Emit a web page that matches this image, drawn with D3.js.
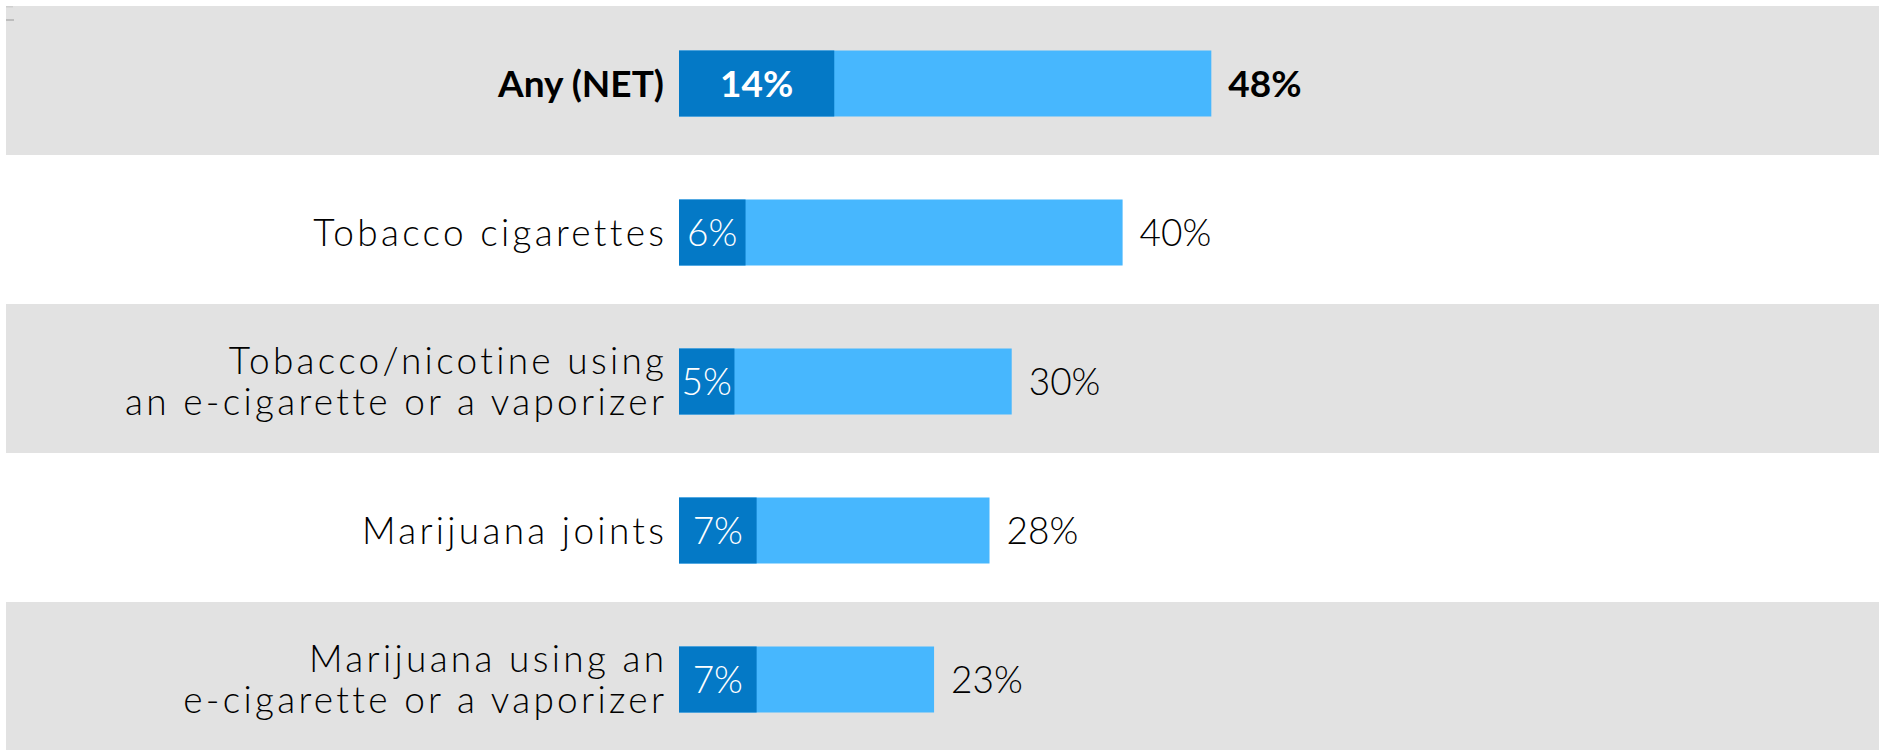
<!DOCTYPE html>
<html>
<head>
<meta charset="utf-8">
<script src="https://cdn.jsdelivr.net/npm/d3@7"></script>
<style>
  html, body { margin: 0; padding: 0; background: #fff; }
  svg { display: block; }
  text { font-family: "Century Gothic", "URW Gothic", "Lato", "DejaVu Sans", sans-serif; }
</style>
</head>
<body>
<div id="chart"></div>
<script>
// chart data
var categories = ["Any (NET)", "Tobacco cigarettes", "Tobacco/nicotine using an e-cigarette or a vaporizer", "Marijuana joints", "Marijuana using an e-cigarette or a vaporizer"];
var labelLines = [["Any (NET)"], ["Tobacco cigarettes"], ["Tobacco/nicotine using", "an e-cigarette or a vaporizer"], ["Marijuana joints"], ["Marijuana using an", "e-cigarette or a vaporizer"]];
var innerValues = [14, 6, 5, 7, 7];
var totalValues = [48, 40, 30, 28, 23];

var width = 1879, height = 750;
var barStart = 679, pxPerPct = 11.09;
var barHeight = 66, fontSize = 37;
var darkBlue = "#0479c6", lightBlue = "#47b7fe", bandGrey = "#e2e2e2";

var rows = categories.map(function (c, i) {
    return { cat: c, lines: labelLines[i], inner: innerValues[i], total: totalValues[i], first: i === 0 };
});

var svg = d3.select("#chart").append("svg")
    .attr("width", width)
    .attr("height", height);

var y = d3.scaleBand().domain(categories).range([6, 751]).padding(0);
var x = d3.scaleLinear().domain([0, 100]).range([barStart, barStart + 100 * pxPerPct]);

function barMid(d) { return y(d.cat) + y.bandwidth() / 2 + 3; }

// alternating grey bands
svg.append("g").selectAll("rect")
    .data(rows.filter(function (d, i) { return i % 2 === 0; }))
    .enter().append("rect")
    .attr("x", 6)
    .attr("y", function (d) { return y(d.cat); })
    .attr("width", width - 6)
    .attr("height", y.bandwidth())
    .attr("fill", bandGrey);

// little marks top-left
svg.append("rect").attr("x", 6).attr("y", 6).attr("width", 7).attr("height", 1.5).attr("fill", "#cfcfcf");
svg.append("rect").attr("x", 6).attr("y", 19).attr("width", 8).attr("height", 2).attr("fill", "#bdbdbd");

var g = svg.append("g").selectAll("g")
    .data(rows)
    .enter().append("g");

// total bar (light)
g.append("rect")
    .attr("x", x(0))
    .attr("y", function (d) { return barMid(d) - barHeight / 2; })
    .attr("width", function (d) { return x(d.total) - x(0); })
    .attr("height", barHeight)
    .attr("fill", lightBlue);

// inner bar (dark)
g.append("rect")
    .attr("x", x(0))
    .attr("y", function (d) { return barMid(d) - barHeight / 2; })
    .attr("width", function (d) { return x(d.inner) - x(0); })
    .attr("height", barHeight)
    .attr("fill", darkBlue);

// inner value labels
g.append("text")
    .attr("x", function (d) { return (x(0) + x(d.inner)) / 2; })
    .attr("y", function (d) { return barMid(d) + 13; })
    .attr("text-anchor", "middle")
    .attr("fill", "#fff")
    .attr("font-size", fontSize)
    .attr("font-weight", function (d) { return d.first ? "bold" : 300; })
    .text(function (d) { return d.inner + "%"; });

// total value labels
g.append("text")
    .attr("x", function (d) { return x(d.total) + 17; })
    .attr("y", function (d) { return barMid(d) + 13; })
    .attr("fill", "#000")
    .attr("font-size", fontSize)
    .attr("font-weight", function (d) { return d.first ? "bold" : 300; })
    .text(function (d) { return d.total + "%"; });

// category labels (spacing widens the light face toward the original look)
var lineGap = 41, spacing = 3.3;
g.append("text")
    .attr("text-anchor", "end")
    .attr("fill", "#000")
    .attr("font-size", fontSize)
    .attr("font-weight", function (d) { return d.first ? "bold" : 300; })
    .attr("letter-spacing", function (d) { return d.first ? 0 : spacing; })
    .each(function (d) {
        var t = d3.select(this);
        var n = d.lines.length;
        var lx = x(0) - 15 + (d.first ? 0 : spacing);
        d.lines.forEach(function (line, k) {
            t.append("tspan")
                .attr("x", lx)
                .attr("y", barMid(d) + 13 + (k - (n - 1) / 2) * lineGap)
                .text(line);
        });
    });
</script>
</body>
</html>
